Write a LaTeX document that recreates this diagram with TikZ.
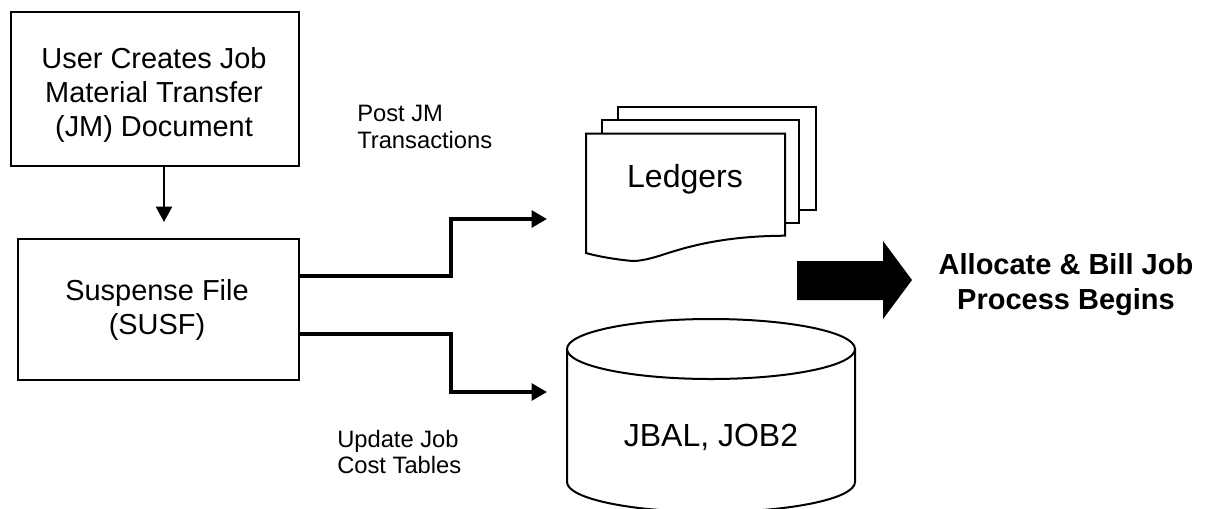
\documentclass[tikz,border=0pt]{standalone}
\usepackage{fontspec}
\setmainfont{Liberation Sans}
\usetikzlibrary{arrows.meta}
\tikzset{
  x=0.75pt,y=-0.75pt,
  boxed/.style={draw=black,line width=1.6pt,fill=white,inner sep=0pt,anchor=north west,align=center},
  shapeline/.style={draw=black,line width=1.5pt,fill=white,line join=miter},
  thinarrow/.style={draw=black,line width=1.6pt,-{Triangle[length=11.5pt,width=12pt]}},
  thickarrow/.style={draw=black,line width=2.7pt,line join=miter,-{Triangle[length=11.5pt,width=12.5pt]}},
  bigtxt/.style={font=\fontsize{21.7pt}{25.6pt}\selectfont,align=center},
  hugetxt/.style={font=\fontsize{24pt}{28pt}\selectfont,align=center},
  smalltxt/.style={font=\fontsize{17.8pt}{20.2pt}\selectfont,align=left,inner sep=0pt},
  boldtxt/.style={font=\fontsize{21.75pt}{26.2pt}\selectfont\bfseries,align=center},
}
\begin{document}
\begin{tikzpicture}
\useasboundingbox (0,0) rectangle (1213,508);
\clip (0,0) rectangle (1213,508);
\fill[white] (0,0) rectangle (1213,508);
% boxes
\node[boxed,minimum width=216pt,minimum height=115.5pt] (user) at (10,11) {};
\node[bigtxt] (usertxt) at (154,95) {User Creates Job\\Material Transfer\\(JM) Document};
\node[boxed,minimum width=210.75pt,minimum height=105.75pt] (susf) at (17,238) {};
\node[bigtxt] (susftxt) at (157,310) {Suspense File\\(SUSF)};
\draw[thinarrow] (user.south -| 164,0) -- (164,222) coordinate (susftop);
% ledgers
\draw[shapeline] (618,107) rectangle (816,210);
\draw[shapeline] (602,120) rectangle (799,223);
\draw[shapeline] (586,133.5) -- (785,133.5) -- (785,235.7)
  .. controls (725,236) and (690,246) .. (665,254)
  .. controls (650,259) and (640,261) .. (633,261)
  .. controls (620,260) and (600,257) .. (586,253) -- cycle;
\node[hugetxt] (ledgers) at (685,179) {Ledgers};
% cylinder
\draw[shapeline] (567,349) -- (567,482) arc[start angle=180,end angle=0,x radius=144,y radius=30] -- (855,349);
\draw[shapeline] (711,349) ellipse[x radius=144,y radius=30];
\node[hugetxt] (jbal) at (711,437) {JBAL, JOB2};
% connectors
\coordinate (ledin) at (547,219);
\coordinate (jobin) at (547,392);
\draw[thickarrow] (298,276) -- (451,276) -- (451,219) -- (ledin);
\draw[thickarrow] (298,334) -- (451,334) -- (451,392) -- (jobin);
% big arrow
\fill[black] (797,261) -- (883,261) -- (883,241) -- (912,280) -- (883,319) -- (883,300) -- (797,300) -- cycle;
% labels
\node[smalltxt,anchor=west] (post) at (357,127) {Post JM\\Transactions};
\node[smalltxt,anchor=west] (update) at (337,452) {Update Job\\Cost Tables};
\node[boldtxt] (allocate) at (1066,285) {Allocate \& Bill Job\\Process Begins};
\end{tikzpicture}
\end{document}
